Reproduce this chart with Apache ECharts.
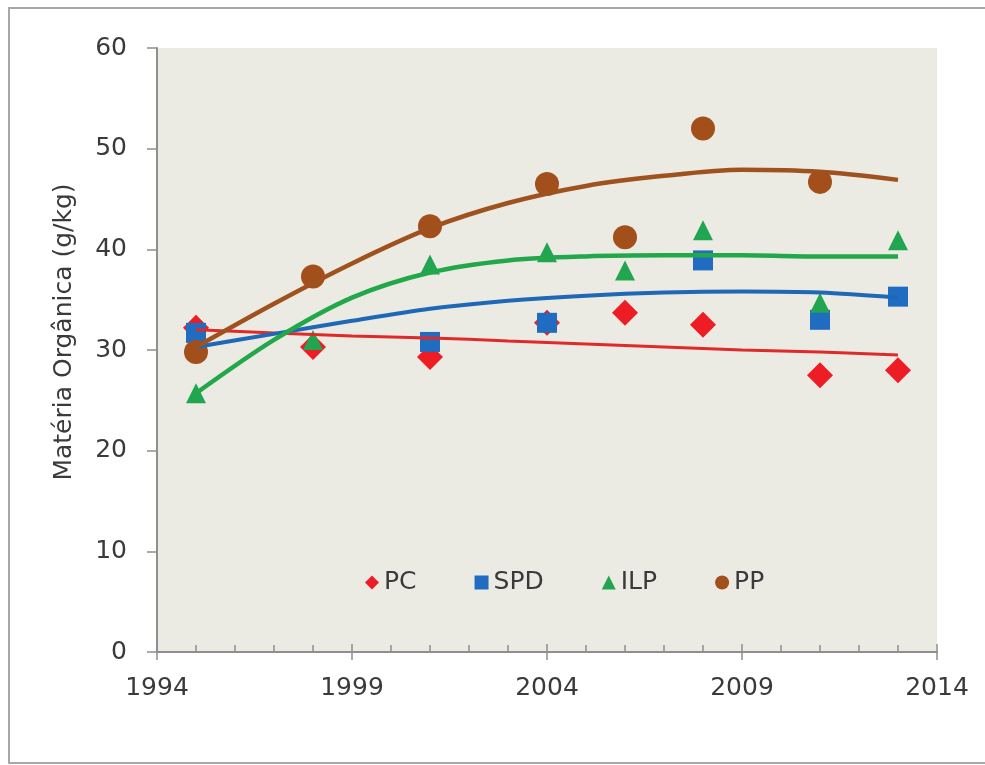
<!DOCTYPE html>
<html>
<head>
<meta charset="utf-8">
<script src="https://cdn.jsdelivr.net/npm/echarts@6/dist/echarts.min.js"></script>
<style>
  html, body { margin: 0; padding: 0; background: #ffffff; }
  #chart { width: 985px; height: 765px; }
</style>
</head>
<body>
<div id="chart"></div>
<script>
// Sampling years
const years = [1995, 1998, 2001, 2004, 2006, 2008, 2011, 2013];

// Measured organic matter (g/kg) per management system
const pcValues  = [32.2, 30.3, 29.3, 32.7, 33.7, 32.5, 27.5, 28.0];
const spdValues = [31.7, null, 30.8, 32.7, null, 38.9, 33.0, 35.3];
const ilpValues = [25.7, 31.0, 38.5, 39.7, 37.9, 41.9, 34.7, 40.9];
const ppValues  = [29.8, 37.3, 42.3, 46.5, 41.2, 52.0, 46.7, null];

// Trend curves, read at these years
const trendYears = [1995, 1997, 1999, 2001, 2003, 2005, 2007, 2009, 2011, 2013];
const pcTrend  = [32.0, 31.7, 31.4, 31.2, 30.9, 30.6, 30.3, 30.0, 29.8, 29.5];
const spdTrend = [30.3, 31.6, 32.9, 34.1, 34.9, 35.4, 35.7, 35.8, 35.7, 35.2];
const ilpTrend = [25.7, 31.0, 35.2, 37.7, 38.9, 39.3, 39.4, 39.4, 39.3, 39.3];
const ppTrend  = [30.3, 34.6, 38.6, 42.1, 44.6, 46.3, 47.3, 47.9, 47.7, 46.9];

const seriesNames = ['PC', 'SPD', 'ILP', 'PP'];

const FONT = 'DejaVu Sans';
const TEXT = '#3a3a3a';

function pairs(xs, vals) {
  return xs.map((x, i) => [x, vals[i]]).filter(p => p[1] !== null);
}

const styles = {
  PC:  { marker: '#ee1c25', line: '#e02a2a', symbol: 'diamond',  size: 26, width: 3 },
  SPD: { marker: '#1f6cc0', line: '#1f68b6', symbol: 'rect',     size: 20, width: 4 },
  ILP: { marker: '#21a550', line: '#22a84a', symbol: 'triangle', size: 20, width: 4.5 },
  PP:  { marker: '#a24f1b', line: '#a0521e', symbol: 'circle',   size: 24, width: 4.5 }
};

const pointData = { PC: pcValues, SPD: spdValues, ILP: ilpValues, PP: ppValues };
const trendData = { PC: pcTrend, SPD: spdTrend, ILP: ilpTrend, PP: ppTrend };

const gridRect = { left: 157, top: 48, right: 48, bottom: 113 };

const series = [];
seriesNames.forEach(name => {
  const s = styles[name];
  series.push({
    name: name,
    type: 'scatter',
    symbol: s.symbol,
    symbolSize: s.size,
    itemStyle: { color: s.marker, opacity: 1 },
    data: pairs(years, pointData[name]),
    z: 2
  });
});
seriesNames.forEach(name => {
  const s = styles[name];
  series.push({
    name: name + ' tendência',
    type: 'line',
    smooth: 0.3,
    showSymbol: false,
    symbol: 'none',
    lineStyle: { color: s.line, width: s.width },
    data: pairs(trendYears, trendData[name]),
    z: 3,
    silent: true
  });
});

const chart = echarts.init(document.getElementById('chart'));
chart.setOption({
  animation: false,
  backgroundColor: '#ffffff',
  graphic: [{
    type: 'rect',
    shape: { x: 9, y: 8, width: 1000, height: 755 },
    style: { fill: 'none', stroke: '#a8a8a8', lineWidth: 2 },
    z: -10
  }, {
    type: 'text',
    x: 64,
    y: 332,
    rotation: Math.PI / 2,
    style: {
      text: 'Matéria Orgânica (g/kg)',
      font: '25px "DejaVu Sans"',
      fill: TEXT,
      align: 'center',
      verticalAlign: 'middle'
    }
  }],
  grid: [
    Object.assign({ show: true, backgroundColor: '#ecebe3', borderWidth: 0 }, gridRect),
    Object.assign({ show: false }, gridRect)
  ],
  legend: {
    data: seriesNames,
    left: 360,
    top: 565,
    itemGap: 58,
    itemWidth: 14,
    itemHeight: 14,
    textStyle: { fontFamily: FONT, fontSize: 25, color: TEXT }
  },
  xAxis: [{
    type: 'value',
    gridIndex: 0,
    min: 1994,
    max: 2014,
    interval: 5,
    axisLine: { show: true, onZero: false, lineStyle: { color: '#8f8f8f', width: 2 } },
    axisTick: { show: true, inside: true, length: 8, lineStyle: { color: '#8f8f8f', width: 1.5 } },
    minorTick: { show: true, splitNumber: 5, length: 7, lineStyle: { color: '#8f8f8f', width: 1.5 } },
    splitLine: { show: false },
    axisLabel: { fontFamily: FONT, fontSize: 25, color: TEXT, margin: 24, formatter: v => String(v) }
  }, {
    type: 'value',
    gridIndex: 1,
    min: 1994,
    max: 2014,
    interval: 5,
    axisLine: { show: false },
    axisTick: { show: true, inside: false, length: 8, lineStyle: { color: '#8f8f8f', width: 1.5 } },
    axisLabel: { show: false },
    splitLine: { show: false }
  }],
  yAxis: [{
    type: 'value',
    gridIndex: 0,
    min: 0,
    max: 60,
    interval: 10,
    axisLine: { show: true, lineStyle: { color: '#8f8f8f', width: 2 } },
    axisTick: { show: true, inside: false, length: 10, lineStyle: { color: '#8f8f8f', width: 1.5 } },
    splitLine: { show: false },
    axisLabel: { fontFamily: FONT, fontSize: 25, color: TEXT, margin: 30 }
  }, {
    type: 'value',
    gridIndex: 1,
    min: 0,
    max: 60,
    interval: 10,
    show: false
  }],
  series: series
});
</script>
</body>
</html>
